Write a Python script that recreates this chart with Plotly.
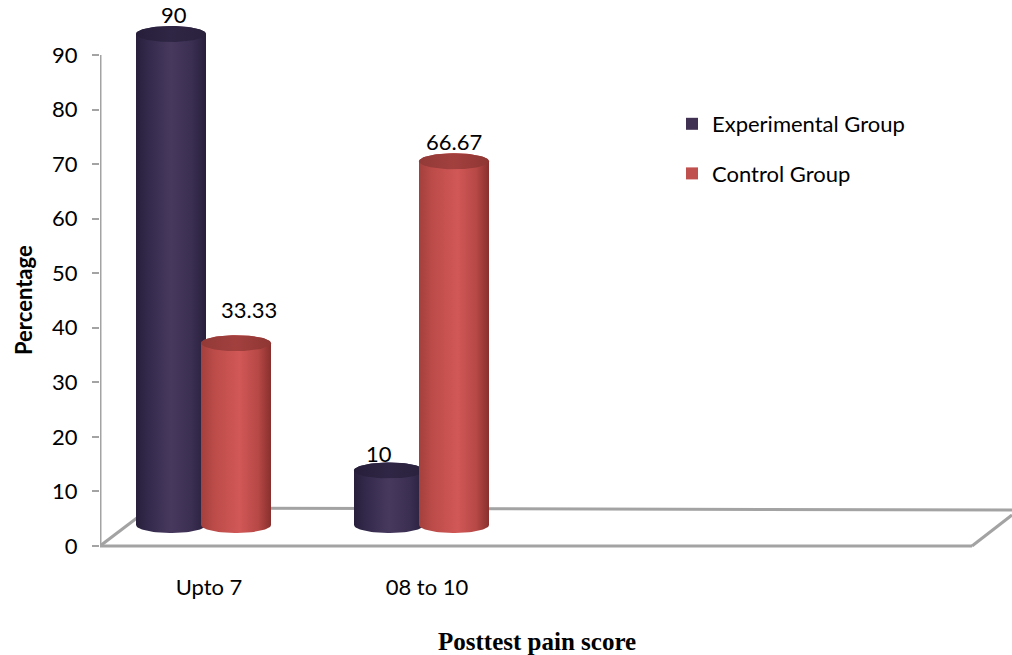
import numpy as np
import plotly.graph_objects as go

# ---- data -------------------------------------------------------------
categories = ["Upto 7", "08 to 10"]
series_names = ["Experimental Group", "Control Group"]
experimental = [90, 10]
control = [33.33, 66.67]
y_ticks = [0, 10, 20, 30, 40, 50, 60, 70, 80, 90]

# ---- styling / geometry -----------------------------------------------
W, H = 1012, 655
L, R, T, B = 100, 1012, 15, 560          # plot area in pixels
PX_PER_Y = 491 / 90                       # pixels per percentage point
PX_PER_X = 218                            # pixels per category slot
y_lo = -(B - 546) / PX_PER_Y
y_hi = (546 - T) / PX_PER_Y
x_lo = -0.5
x_hi = x_lo + (R - L) / PX_PER_X

DEPTH_Y = 21 / PX_PER_Y                   # cylinders sit on the back floor
DEPTH_X = -5.5 / PX_PER_X
SERIES_OFFSET = 32.5 / PX_PER_X
RAD_X = 35 / PX_PER_X                     # cylinder radius (x units)
RAD_Y = 8 / PX_PER_Y                      # ellipse half-height (y units)

FONT = "Lato"
TEXT = "#000000"
GRID = "#a3a3a3"

legend_colors = ["#403152", "#c0504d"]
body_scales = [
    [[0, "#271f3b"], [0.18, "#342a4c"], [0.5, "#47395e"], [0.8, "#3a2e51"], [1, "#281f3c"]],
    [[0, "#a3403d"], [0.2, "#bd4c49"], [0.55, "#d15857"], [0.82, "#b64845"], [1, "#88302e"]],
]
top_scales = [
    [[0, "#261e39"], [0.5, "#2f2645"], [1, "#2a213d"]],
    [[0, "#923a37"], [0.5, "#a2403e"], [1, "#8f3633"]],
]
# label nudges in pixels (x, y) per series / category
label_nudge = [[(3, 0), (-10, -3)], [(13, 14), (0, 0)]]

fig = go.Figure()

series_values = [experimental, control]
t_low = np.linspace(np.pi, 2 * np.pi, 40)
t_up = np.linspace(0, np.pi, 40)
t_full = np.linspace(0, 2 * np.pi, 80)

for s, (name, vals) in enumerate(zip(series_names, series_values)):
    centers = [i + DEPTH_X + (2 * s - 1) * SERIES_OFFSET for i in range(len(categories))]
    # flat bars carry the legend entry and hover values
    fig.add_trace(go.Bar(
        x=centers, y=vals, base=0, width=2 * RAD_X, name=name,
        marker=dict(color=legend_colors[s], line=dict(width=0)),
        yaxis="y2", showlegend=True, legendgroup=name,
        hovertext=categories, hoverinfo="text+y",
    ))

for s, (name, vals) in enumerate(zip(series_names, series_values)):
    for i, v in enumerate(vals):
        xc = i + DEPTH_X + (2 * s - 1) * SERIES_OFFSET
        # cylinder body: front half of base ellipse, sides, back half of top ellipse
        bx = xc + RAD_X * np.cos(t_low)
        by = RAD_Y * np.sin(t_low)
        tx = xc + RAD_X * np.cos(t_up)
        ty = v + RAD_Y * np.sin(t_up)
        px = np.concatenate([bx, tx])
        py = np.concatenate([by, ty])
        fig.add_trace(go.Scatter(
            x=px, y=py, mode="lines", fill="toself", yaxis="y2",
            line=dict(width=0), hoverinfo="skip", showlegend=False,
            fillgradient=dict(type="horizontal", colorscale=body_scales[s],
                              start=xc - RAD_X, stop=xc + RAD_X),
        ))
        # top face
        fig.add_trace(go.Scatter(
            x=xc + RAD_X * np.cos(t_full), y=v + RAD_Y * np.sin(t_full),
            mode="lines", fill="toself", yaxis="y2",
            line=dict(width=0), hoverinfo="skip", showlegend=False,
            fillgradient=dict(type="horizontal", colorscale=top_scales[s],
                              start=xc - RAD_X, stop=xc + RAD_X),
        ))
        nx, ny = label_nudge[s][i]
        fig.add_annotation(
            x=xc, y=v, yref="y2", xref="x", text=f"{v:g}", showarrow=False,
            yanchor="bottom", xanchor="center", xshift=nx,
            yshift=RAD_Y * PX_PER_Y - 4 + ny,
            font=dict(family=FONT, size=22, color=TEXT),
        )

# floor of the 3-D plot
back_left_x = x_lo + 50 / PX_PER_X
floor = [
    (x_lo, 0, 3.5, 0),                                   # front edge
    (back_left_x, 38 / PX_PER_Y, x_hi, 36 / PX_PER_Y),   # back edge
    (x_lo, 0, back_left_x, 38 / PX_PER_Y),               # left side
    (3.5, 0, x_hi, 31 / PX_PER_Y),                       # right side
    (x_lo, 0, x_lo, 90),                                 # value axis
]
for x0, y0, x1, y1 in floor:
    fig.add_shape(type="line", x0=x0, y0=y0, x1=x1, y1=y1, xref="x", yref="y",
                  line=dict(color=GRID, width=3), layer="below")

fig.add_annotation(
    text="<b>Percentage</b>", textangle=-90, showarrow=False,
    xref="paper", yref="paper", xanchor="center", yanchor="middle",
    x=(23 - L) / (R - L), y=(B - 300) / (B - T),
    font=dict(family=FONT, size=22, color=TEXT),
)
fig.add_annotation(
    text="<b>Posttest pain score</b>", showarrow=False,
    xref="paper", yref="paper", xanchor="center", yanchor="middle",
    x=(537 - L) / (R - L), y=(B - 641) / (B - T),
    font=dict(family="Liberation Serif", size=25, color=TEXT),
)

fig.update_layout(
    width=W, height=H, autosize=False,
    margin=dict(l=L, r=W - R, t=T, b=H - B, pad=0),
    paper_bgcolor="white", plot_bgcolor="white",
    barmode="overlay", bargap=0,
    showlegend=True,
    legend=dict(
        x=(672 - L) / (R - L), y=(B - 103) / (B - T), xanchor="left", yanchor="top",
        font=dict(family=FONT, size=22, color=TEXT),
        tracegroupgap=18, bgcolor="rgba(0,0,0,0)", itemclick=False,
    ),
    xaxis=dict(
        range=[x_lo, x_hi], tickvals=list(range(len(categories))), ticktext=categories,
        showgrid=False, zeroline=False, showline=False, ticks="",
        tickfont=dict(family=FONT, size=22, color=TEXT), ticklabelstandoff=12,
        fixedrange=True,
    ),
    yaxis=dict(
        range=[y_lo, y_hi], tickvals=y_ticks, showgrid=False, zeroline=False,
        showline=False, ticks="outside", ticklen=7, tickwidth=2, tickcolor=GRID,
        tickfont=dict(family=FONT, size=22, color=TEXT), ticklabelstandoff=10,
        fixedrange=True,
    ),
    yaxis2=dict(
        range=[y_lo - DEPTH_Y, y_hi - DEPTH_Y], overlaying="y", visible=False,
        fixedrange=True,
    ),
)

fig.write_html("out.html")
